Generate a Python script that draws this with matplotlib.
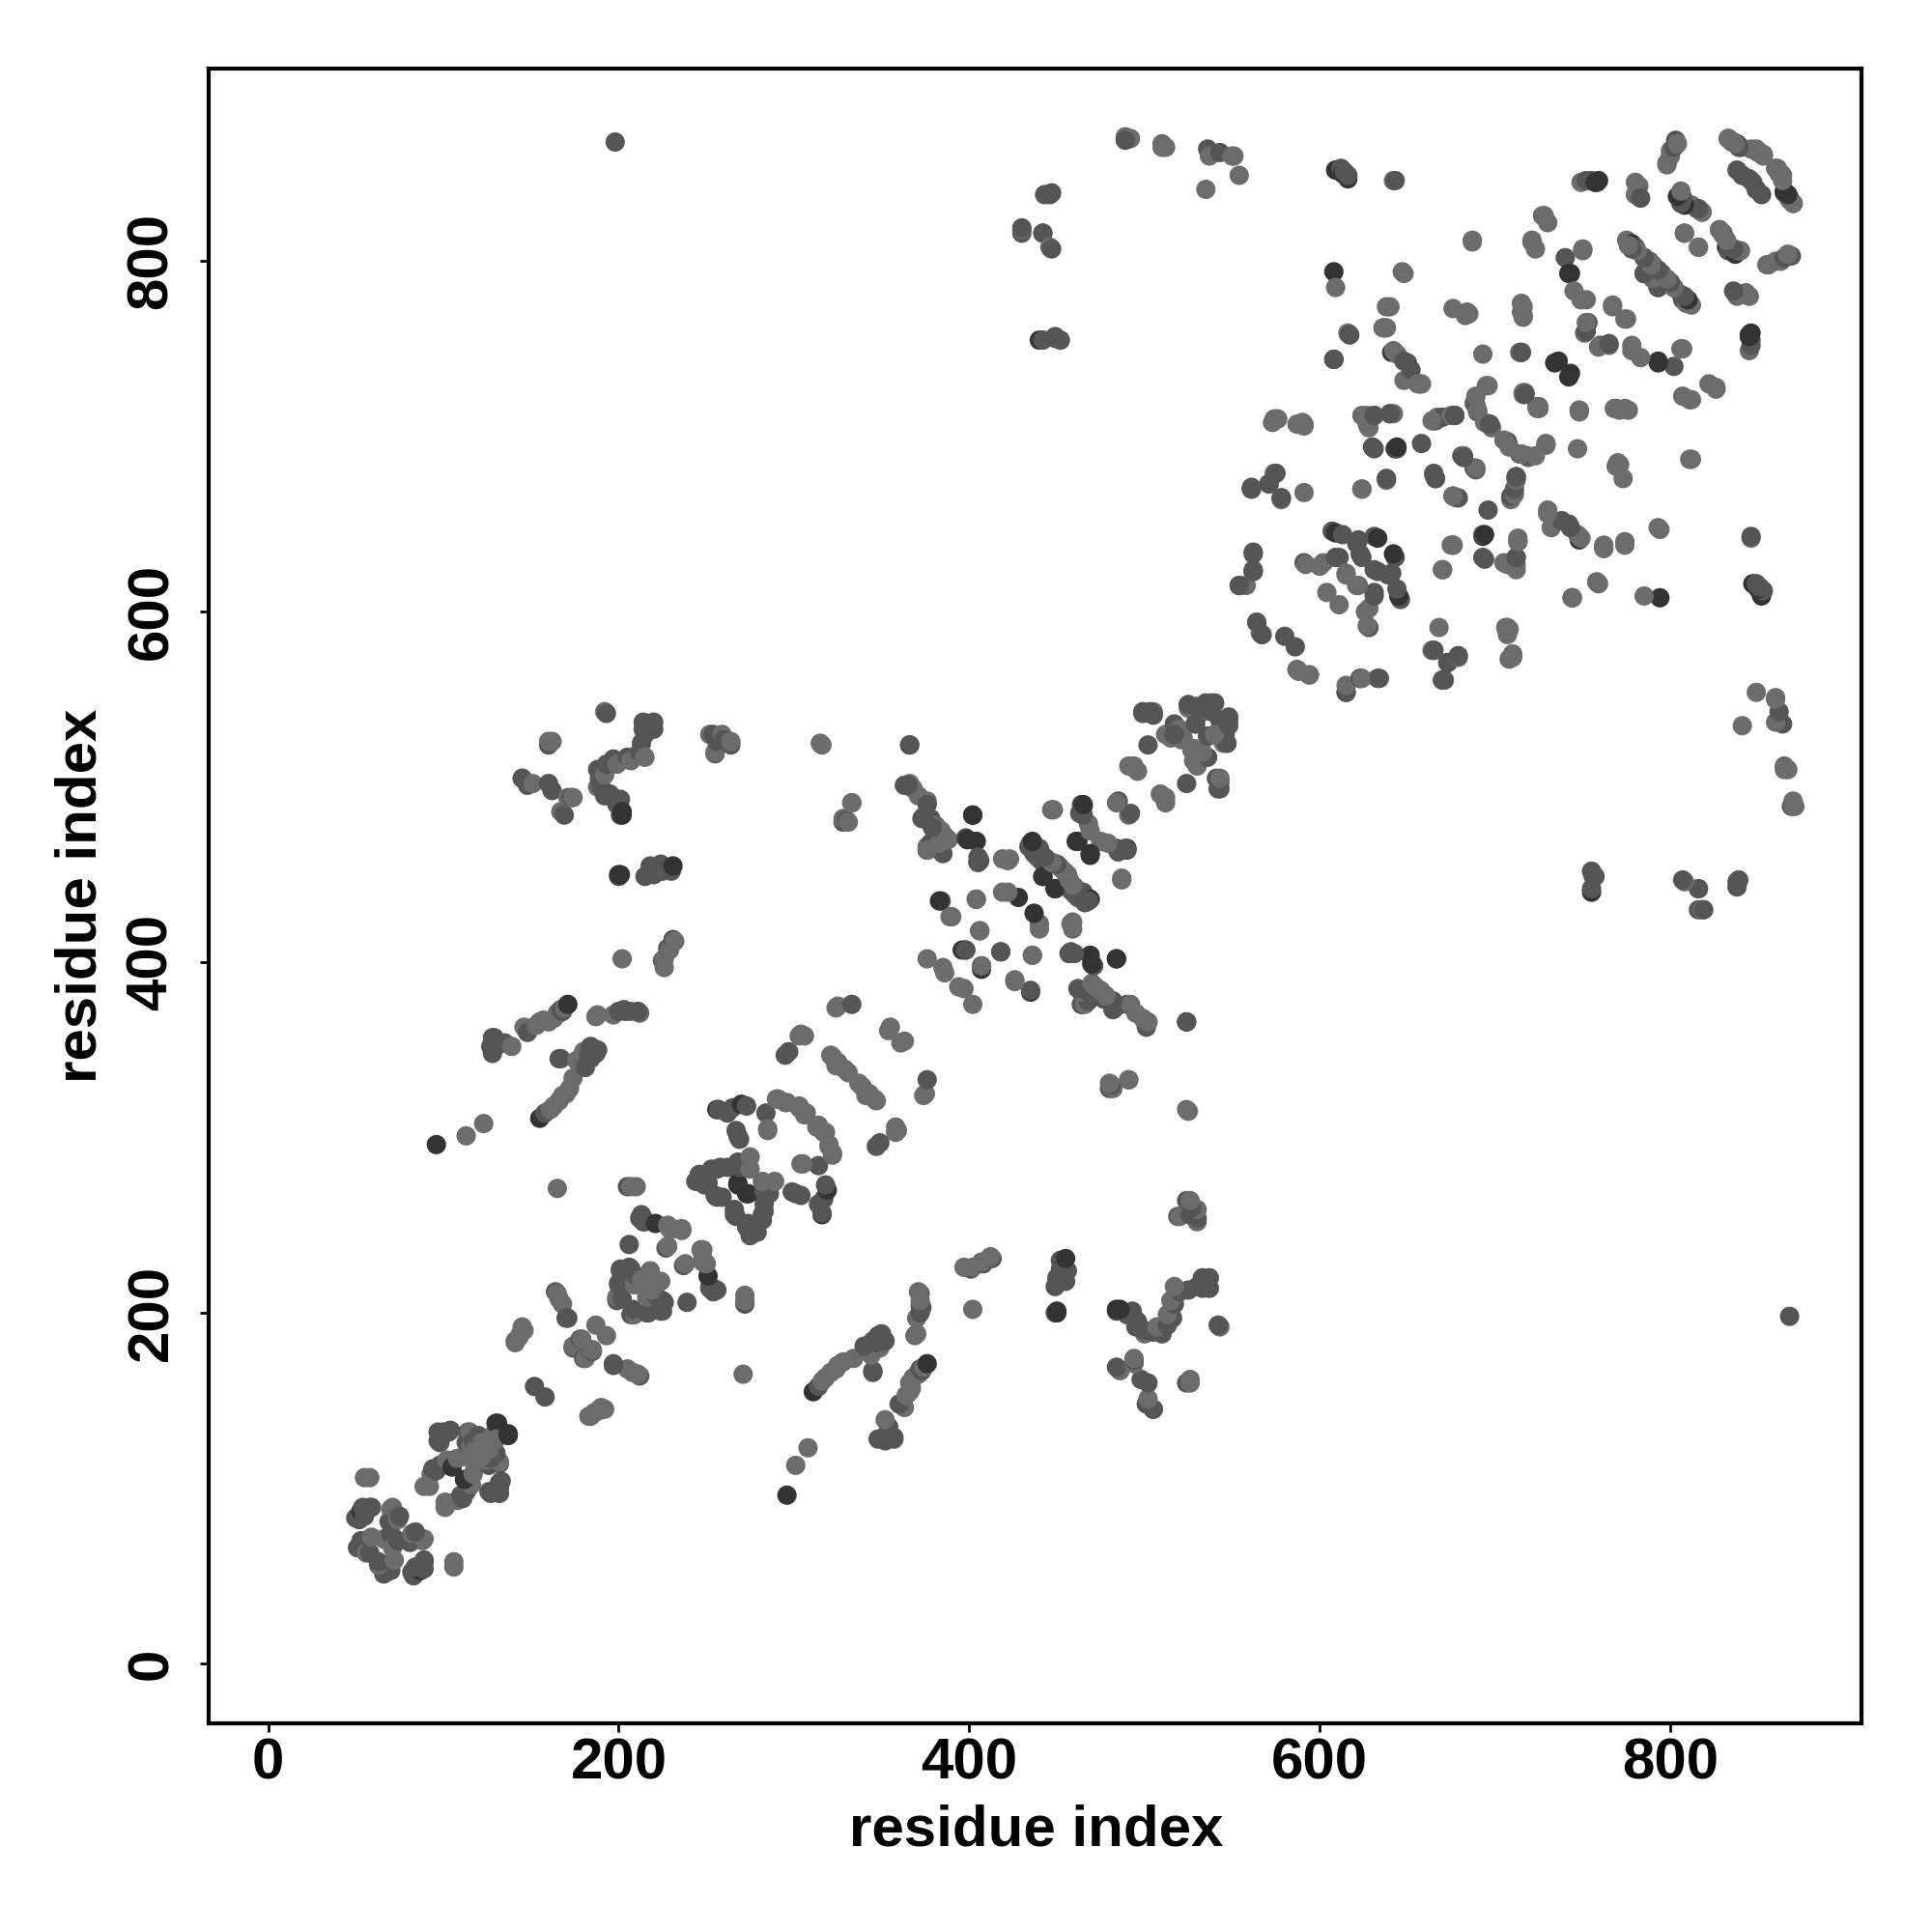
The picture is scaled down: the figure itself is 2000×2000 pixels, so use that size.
"""
Residue contact map, drawn from contacts read off the published figure.
A contact map is symmetric, so each pair (i, j) with i < j is drawn twice.
"""

import matplotlib
matplotlib.use('Agg')
import matplotlib.pyplot as plt

plt.rcParams.update({
    'font.family': 'Liberation Sans',
    'font.weight': 'bold',
    'font.size': 21.6,
})

TICKS = [0, 200, 400, 600, 800]
AXIS_LABEL = 'residue index'

# contacts by score class
contacts_light = [
    (55, 106), (58, 106), (70, 88), (66, 71), (59, 72), (56, 63), (71, 89), (74, 82),
    (89, 101), (92, 101), (93, 108), (102, 116), (108, 117), (112, 118), (116, 124), (118, 122),
    (122, 126), (128, 130), (115, 132), (141, 183), (143, 186), (146, 190), (144, 188),
    (141, 184), (145, 192), (165, 211), (166, 208), (168, 205), (187, 193), (174, 181), (179, 185),
    (165, 271), (210, 272), (207, 272), (218, 224), (209, 216), (213, 219), (199, 209),
    (229, 248), (228, 250), (236, 248), (231, 248), (236, 247), (228, 238), (187, 369), (197, 370),
    (207, 372), (212, 371), (285, 305), (291, 322), (295, 320), (303, 318), (306, 313),
    (307, 314), (317, 303), (290, 322), (296, 320), (275, 289), (275, 282), (285, 304),
    (321, 347), (325, 343), (331, 337), (329, 339), (324, 341), (322, 346), (325, 375), (355, 363),
    (354, 361), (304, 359), (306, 358), (303, 358), (324, 374), (226, 397), (226, 402), (229, 407),
    (232, 412), (202, 402), (113, 301), (123, 308), (161, 316), (163, 318), (166, 321), (168, 324),
    (170, 325), (172, 328), (174, 334), (176, 344), (180, 349), (188, 370), (139, 352), (146, 363),
    (153, 364), (160, 366), (166, 371), (169, 374), (165, 371), (155, 366), (157, 367), (163, 368),
    (145, 505), (151, 502), (171, 494), (167, 486), (174, 494), (160, 526), (162, 526), (192, 543),
    (188, 500), (192, 507), (199, 513), (207, 515), (215, 517), (252, 530), (259, 530), (264, 526),
    (255, 520), (315, 525), (333, 491), (366, 502), (371, 495), (376, 492), (381, 478), (386, 472),
    (383, 464), (376, 466), (368, 499), (384, 475), (388, 470), (422, 458), (419, 459), (444, 459),
    (451, 455), (457, 447), (447, 457), (454, 452), (448, 487), (468, 479), (475, 469), (491, 484),
    (487, 447), (494, 512), (491, 512), (511, 494), (509, 496), (505, 543), (525, 545), (517, 530),
    (522, 528), (527, 521), (530, 540), (520, 533), (512, 530), (515, 528), (389, 426), (404, 436),
    (419, 440), (459, 423), (440, 422), (398, 407), (418, 406), (436, 404), (376, 402), (385, 397),
    (386, 394), (426, 390), (464, 376), (468, 383), (328, 482), (331, 480), (333, 491), (316, 524),
    (430, 818), (442, 816), (446, 808), (489, 871), (492, 870), (510, 867), (512, 865), (550, 860),
    (535, 841), (642, 846), (537, 860), (551, 860), (554, 849), (489, 870), (510, 865),
    # right block
    (575, 710), (573, 708), (591, 707), (587, 707), (624, 712), (628, 705), (642, 713), (665, 709),
    (677, 712), (688, 719), (694, 708), (696, 729), (716, 724), (717, 724), (715, 748), (716, 769),
    (683, 769), (665, 678), (666, 676), (709, 664), (657, 730), (637, 762), (591, 668), (578, 664),
    (624, 670), (638, 675), (638, 676), (640, 713), (627, 707), (608, 744), (617, 758), (602, 628),
    (615, 622), (621, 615), (604, 611), (592, 627), (600, 626), (566, 588), (564, 594), (567, 587),
    (558, 615), (562, 624), (624, 670), (574, 679), (591, 706), (576, 710), (590, 708),
    (781, 842), (780, 838), (798, 855), (800, 860), (833, 870), (836, 868), (846, 864), (850, 863),
    (853, 860), (861, 853), (864, 849), (862, 850), (867, 837), (870, 833), (868, 835), (806, 839),
    (812, 832), (818, 828), (815, 830), (828, 818), (840, 806), (808, 816), (816, 808), (798, 856),
    (804, 867), (800, 863), (781, 840), (780, 845), (782, 843), (749, 845), (728, 826), (730, 822),
    (721, 812), (723, 807), (750, 806), (745, 783), (752, 778), (751, 759), (765, 752), (767, 774),
    (775, 767), (749, 778), (750, 807), (775, 812), (785, 802), (790, 798), (798, 789), (806, 781),
    (809, 776), (790, 790), (715, 771), (715, 776), (716, 774), (716, 768), (716, 725), (717, 725),
    (727, 826), (721, 811), (687, 812), (685, 770), (676, 773), (638, 774), (636, 762), (616, 759),
    (609, 785), (647, 794), (608, 744), (642, 749), (656, 730), (648, 732), (693, 747), (714, 748),
    (695, 729), (689, 723), (698, 705), (707, 697), (690, 715), (574, 710), (627, 712), (675, 712),
    (667, 711), (687, 811), (682, 689), (684, 771), (658, 730), (644, 747), (648, 793), (638, 762),
    (640, 774),
]

contacts_mid = [
    (58, 89), (50, 83), (55, 84), (75, 84), (69, 81), (53, 69), (51, 66), (58, 71), (58, 63), (52, 66),
    (53, 70), (70, 74), (71, 82), (70, 80), (59, 89), (54, 89), (53, 83), (52, 82),
    (94, 111), (96, 110), (98, 113), (100, 114), (113, 126), (117, 127), (114, 132), (104, 133),
    (97, 132), (97, 127), (100, 132), (103, 132), (98, 126), (99, 130), (120, 130), (152, 158),
    (170, 197), (174, 180), (178, 185), (205, 272), (206, 239), (201, 225), (206, 226), (200, 217),
    (210, 221), (207, 224), (199, 208), (202, 208), (207, 225), (201, 224), (200, 216), (199, 207),
    (212, 254), (215, 252), (227, 237), (213, 256), (214, 252), (214, 254), (257, 316), (265, 317),
    (273, 318), (268, 301), (269, 299), (284, 314), (246, 278), (253, 282), (258, 283), (268, 286),
    (249, 273), (255, 267), (259, 266), (269, 283), (262, 283), (256, 282), (256, 266), (251, 274),
    (246, 279), (244, 275), (267, 304), (262, 314), (295, 347), (297, 349), (333, 376), (372, 211),
    (372, 204), (200, 449), (220, 450), (215, 449), (230, 452), (225, 452), (181, 340), (184, 345),
    (187, 348), (188, 350), (184, 349), (183, 347), (200, 372), (203, 373), (158, 314), (166, 345),
    (184, 352), (127, 352), (130, 355), (128, 348), (135, 354), (128, 357), (129, 357), (131, 353),
    (148, 360), (168, 372), (167, 373), (225, 401), (228, 408), (231, 413), (218, 455), (224, 456),
    (160, 502), (188, 510), (195, 496), (201, 493), (214, 533), (220, 533), (366, 524), (330, 481),
    (328, 480), (363, 501), (373, 482), (378, 482), (380, 470), (378, 468), (385, 462), (398, 471),
    (406, 458), (405, 460), (435, 468), (439, 460), (434, 466), (436, 464), (437, 462), (441, 458),
    (456, 450), (460, 443), (465, 440), (467, 437), (462, 438), (465, 489), (464, 490), (485, 492),
    (485, 463), (484, 465), (502, 524), (499, 543), (525, 547), (529, 536), (517, 536), (538, 548),
    (535, 548), (540, 548), (543, 538), (545, 536), (546, 530), (536, 529), (547, 525), (530, 517),
    (543, 503), (542, 499), (541, 505), (405, 457), (383, 468), (379, 477), (376, 464), (374, 483),
    (384, 435), (407, 398), (406, 418), (457, 405), (477, 379), (483, 374), (501, 365), (490, 376),
    (524, 366), (446, 838), (449, 757), (452, 755), (536, 864), (543, 862), (614, 851), (631, 712),
    (670, 711), (707, 697), (689, 718), (724, 717), (681, 689), (688, 682), (676, 666), (665, 679),
    (658, 696), (712, 677), (650, 742), (561, 671), (575, 679), (578, 665), (561, 670), (571, 673),
    (676, 638), (644, 693), (631, 693), (712, 631), (713, 640), (562, 634), (554, 615), (562, 623),
    (607, 646), (613, 644), (621, 639), (631, 643), (591, 628), (609, 631), (623, 633), (624, 631),
    (622, 641), (611, 631), (580, 586), (587, 567), (594, 564), (615, 554), (623, 562), (633, 562),
    (665, 578), (670, 561), (673, 571), (744, 608), (758, 617),
    (752, 846), (755, 846), (783, 836), (802, 865), (803, 869), (841, 849), (838, 852), (849, 841),
    (847, 845), (865, 839), (807, 836), (808, 834), (830, 816), (833, 806), (836, 807), (740, 802),
    (753, 765), (760, 752), (788, 800), (780, 808), (795, 793), (802, 785), (807, 778), (785, 793),
    (793, 785), (748, 715), (652, 738), (648, 743), (690, 714), (630, 694), (666, 709), (677, 712),
    (447, 807), (442, 816), (430, 816), (430, 819), (449, 756), (442, 755), (447, 839), (443, 838),
    (869, 489), (198, 868), (616, 849), (612, 853), (643, 846), (255, 519), (264, 524), (254, 530),
    (260, 527), (256, 526), (201, 484), (199, 490), (197, 494), (192, 495), (190, 500), (189, 505),
    (190, 510), (193, 513), (197, 516), (205, 517), (212, 520), (213, 525), (215, 530), (214, 537),
    (220, 537), (193, 542), (169, 484), (173, 494), (162, 498), (148, 501), (145, 505), (160, 524),
    (164, 212), (171, 197), (167, 345),
]

contacts_dark = [
    (53, 87), (130, 137), (131, 137), (105, 112), (221, 251), (268, 274), (268, 273), (270, 319),
    (256, 316), (96, 296), (155, 311), (171, 376), (201, 450), (200, 450), (231, 455), (202, 486),
    (202, 484), (402, 484), (404, 469), (399, 470), (428, 437), (442, 449), (449, 442),
    (462, 469), (469, 461), (469, 436), (490, 465), (407, 396), (435, 383), (484, 402), (470, 399),
    (440, 755), (609, 852), (613, 850), (616, 847), (643, 693), (633, 642), (609, 645),
    (759, 846), (757, 845), (840, 865), (838, 867), (832, 808), (837, 804), (758, 845),
    (742, 793), (743, 793), (778, 810), (734, 742), (736, 743), (608, 794), (644, 694), (641, 748),
]

GRAY_LIGHT = '#6c6c6c'
GRAY_MID = '#555555'
GRAY_DARK = '#333333'

rows = [(i, j, GRAY_LIGHT) for i, j in contacts_light]
rows += [(i, j, GRAY_MID) for i, j in contacts_mid]
rows += [(i, j, GRAY_DARK) for i, j in contacts_dark]
# plotted in residue order so the shades overlap each other at random, not by class
rows.sort(key=lambda r: (r[0], r[1]))

xs = [r[0] for r in rows] + [r[1] for r in rows]
ys = [r[1] for r in rows] + [r[0] for r in rows]
cols = [r[2] for r in rows] * 2

fig = plt.figure(figsize=(10, 10), dpi=200)
ax = fig.add_axes([0.108, 0.108, 0.8555, 0.8565])
ax.scatter(xs, ys, s=52, c=cols, linewidths=0)

ax.set_xlim(-33.9, 909)
ax.set_ylim(-34.2, 909.9)
ax.set_xticks(TICKS)
ax.set_yticks(TICKS)
ax.tick_params(axis='x', length=3.2, width=1, pad=2)
ax.tick_params(axis='y', length=3.2, width=1, pad=8)
for label in ax.get_yticklabels():
    label.set_rotation(90)
    label.set_va('center')
for spine in ax.spines.values():
    spine.set_linewidth(1.5)

fig.text(0.5365, 0.0525, AXIS_LABEL, ha='center', va='center', fontweight='bold', fontsize=21.6)
fig.text(0.042, 0.5365, AXIS_LABEL, ha='center', va='center', rotation=90, fontweight='bold', fontsize=21.6)

plt.savefig('out.png')
